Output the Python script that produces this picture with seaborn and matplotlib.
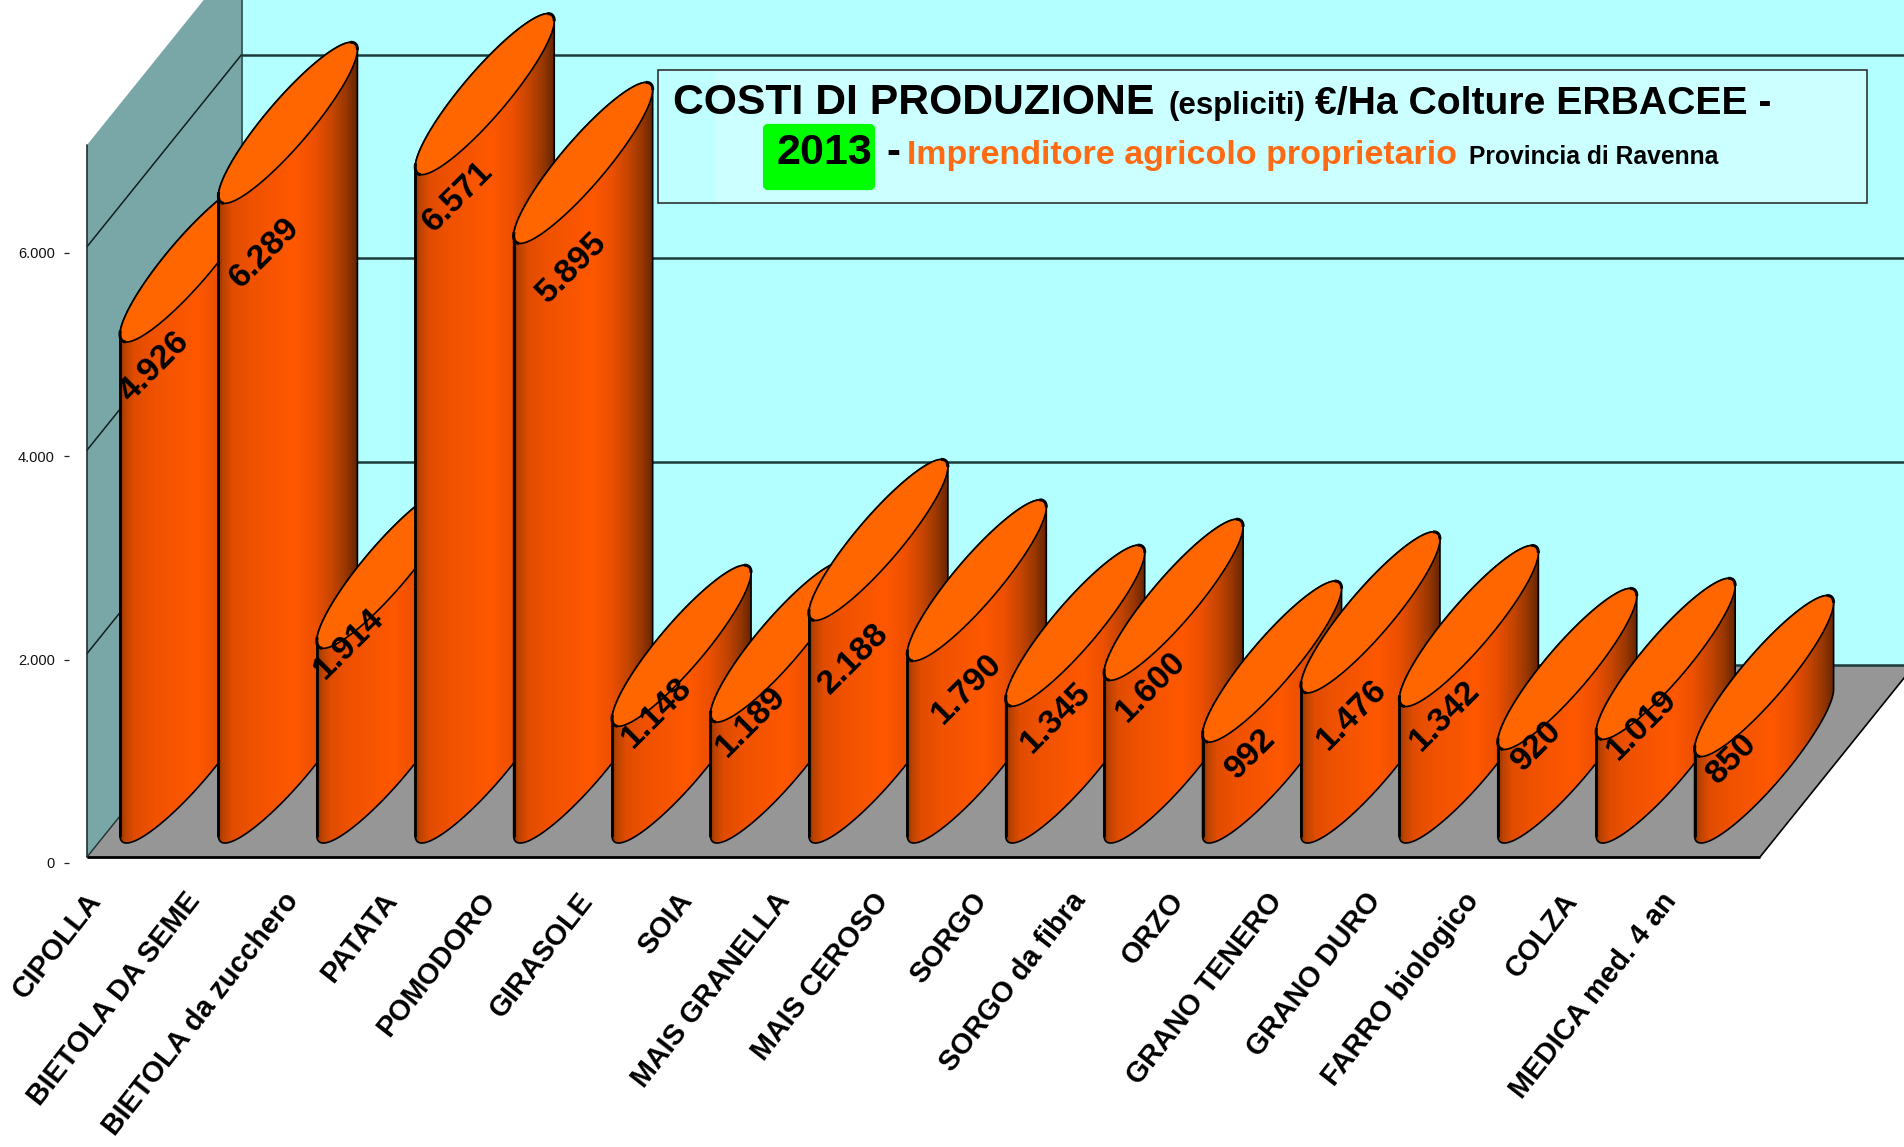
import numpy as np
import pandas as pd
import seaborn as sns
import matplotlib
matplotlib.use("Agg")
import matplotlib.pyplot as plt
from matplotlib.path import Path
from matplotlib.patches import PathPatch, Polygon, Rectangle, FancyBboxPatch
from matplotlib.colors import LinearSegmentedColormap
from matplotlib.transforms import ScaledTranslation

crops = ["CIPOLLA", "BIETOLA DA SEME", "BIETOLA da zucchero", "PATATA", "POMODORO",
         "GIRASOLE", "SOIA", "MAIS GRANELLA", "MAIS CEROSO", "SORGO", "SORGO da fibra",
         "ORZO", "GRANO TENERO", "GRANO DURO", "FARRO biologico", "COLZA", "MEDICA med. 4 an"]
costs = [4926, 6289, 1914, 6571, 5895, 1148, 1189, 2188, 1790, 1345, 1600, 992, 1476, 1342, 920, 1019, 850]
y_ticks = [0, 2000, 4000, 6000]
y_tick_labels = ["0", "2.000", "4.000", "6.000"]
value_labels = ["4.926", "6.289", "1.914", "6.571", "5.895", "1.148", "1.189", "2.188", "1.790",
                "1.345", "1.600", "992", "1.476", "1.342", "920", "1.019", "850"]
# label placement relative to each bar's top-left corner (pixels, right / down)
label_shift = [(34, 30), (46, 54), (32, 0), (43, 27), (58, 29), (45, -9), (40, 4), (45, 43), (60, 32),
               (50, 16), (47, 11), (48, 16), (51, 27), (46, 14), (39, 1), (46, -10), (37, 7)]

W, H = 1904, 1147
sns.set_theme(style="white")
plt.rcParams["font.family"] = ["Liberation Sans", "DejaVu Sans"]

fig = plt.figure(figsize=(W / 100, H / 100), dpi=100, facecolor="white")
ax = fig.add_axes([87 / W, (H - 857) / H, 1673 / W, 712 / H])
ax.patch.set_alpha(0)

df = pd.DataFrame({"coltura": crops, "costo": costs})
sns.barplot(data=df, x="coltura", y="costo", width=1.0, color="#ff5500", ax=ax, errorbar=None)
ax.set_xlim(-0.5, 16.5)
ax.set_ylim(0, 7000)
ax.set_xlabel("")
ax.set_ylabel("")
ax.set_yticks([])
for s in ax.spines.values():
    s.set_visible(False)

px_x = 1 / 98.41          # categories per pixel
px_y = 7000 / 712         # euro per pixel

# ---------- walls and floor
dx, dy = 154.5 * px_x, 192 * px_y
WALL, SIDE, FLOOR = "#b3ffff", "#79a6a6", "#969696"
x0, x1 = -0.5, 16.5
ax.add_patch(Polygon([(x0 + dx, dy), (x1 + dx, dy), (x1 + dx, 7000 + dy), (x0 + dx, 7000 + dy)],
                     fc=WALL, ec="none", clip_on=False, zorder=0.1))
ax.add_patch(Polygon([(x0, 0), (x1, 0), (x1 + dx, dy), (x0 + dx, dy)],
                     fc=FLOOR, ec="none", clip_on=False, zorder=0.2))
ax.add_patch(Polygon([(x0, 0), (x0 + dx, dy), (x0 + dx, 7000 + dy), (x0, 7000)],
                     fc=SIDE, ec="none", clip_on=False, zorder=0.2))
GRID = "#1c3a3a"
for v in [2000, 4000, 6000]:
    ax.plot([x0, x0 + dx], [v, v + dy], color="#102020", lw=1.1, clip_on=False, zorder=0.3)
for v in [0, 2000, 4000, 6000]:
    ax.plot([x0 + dx, x1 + dx], [v + dy, v + dy], color=GRID, lw=1.8, clip_on=False, zorder=0.3)
ax.plot([x0 + dx, x0 + dx], [dy, 7000 + dy], color=GRID, lw=1.1, clip_on=False, zorder=0.3)
ax.plot([x0, x0 + dx], [0, dy], color="#203030", lw=1.0, clip_on=False, zorder=0.3)
ax.plot([x0, x0], [0, 7000], color="#203030", lw=1.2, clip_on=False, zorder=0.4)
ax.plot([x1, x1 + dx], [0, dy], color="black", lw=1.2, clip_on=False, zorder=0.4)
ax.plot([x0, x1], [0, 0], color="black", lw=2.0, clip_on=False, zorder=0.4, solid_capstyle="butt")

# ---------- cylinders, built from seaborn's bars
cyl = LinearSegmentedColormap.from_list("cyl", [
    (0.00, "#8a3200"), (0.03, "#b84200"), (0.10, "#e04c00"), (0.25, "#f05200"),
    (0.55, "#ff5800"), (0.70, "#ec5000"), (0.82, "#c44400"), (0.92, "#963600"), (1.00, "#622400")])
grad = np.linspace(0, 1, 256)[None, :]

width = 139 * px_x
rise = 146 * px_y
bulge = 34 * px_y
base = 21.5 * px_y
shift = 33 * px_x

up = np.linspace(0, np.pi, 120)
low = np.linspace(np.pi, 2 * np.pi, 120)


def rim(left, corner, t):
    return np.column_stack([left + width / 2 * (1 + np.cos(t)),
                            corner + rise / 2 * (1 + np.cos(t)) + bulge * np.sin(t)])


bars = list(ax.patches)
bars = [b for b in bars if isinstance(b, Rectangle)][:len(costs)]
for i, b in enumerate(bars):
    b.set_visible(False)
    left = b.get_x() + shift
    val = b.get_height()
    z = 1 + i * 0.1
    top = base + val
    body = np.vstack([rim(left, base, low), rim(left, top, up)])
    bp = PathPatch(Path(np.vstack([body, body[0]]), closed=True), fc="none", ec="black", lw=1.2,
                   clip_on=False, zorder=z + 0.02, joinstyle="round")
    ax.add_patch(bp)
    im = ax.imshow(grad, cmap=cyl, aspect="auto", extent=(left, left + width, 0, top + rise + bulge * 2),
                   zorder=z + 0.01, interpolation="bilinear", vmin=0, vmax=1)
    im.set_clip_path(bp)
    im.set_clip_box(fig.bbox)
    ax.plot([left, left], [base, top], color="black", lw=2.0, clip_on=False, zorder=z + 0.03)
    ell = np.vstack([rim(left, top, up), rim(left, top, low)])
    ax.add_patch(PathPatch(Path(np.vstack([ell, ell[0]]), closed=True), fc="#ff6600", ec="black", lw=1.2,
                           clip_on=False, zorder=z + 0.04))
    # heavier rim at the two tips
    ax.plot(*rim(left, top, np.linspace(0, 0.45, 20)).T, color="black", lw=2.2, clip_on=False,
            zorder=z + 0.05, solid_capstyle="butt")
    ax.plot(*rim(left, top, np.linspace(np.pi - 0.1, np.pi + 0.4, 20)).T, color="black", lw=2.2,
            clip_on=False, zorder=z + 0.05, solid_capstyle="butt")
    sx, sy = label_shift[i]
    ax.annotate(value_labels[i], xy=(left, top), xytext=(sx, -sy - 3), textcoords="offset pixels",
                ha="center", va="center", rotation=45, rotation_mode="anchor",
                fontsize=24.5, fontweight="bold", color="black", zorder=5, annotation_clip=False)
ax.set_xlim(-0.5, 16.5)
ax.set_ylim(0, 7000)

# ---------- category labels
ax.tick_params(axis="x", length=0, pad=28)
offset = ScaledTranslation(-40 / 100, 0, fig.dpi_scale_trans)
for lab in ax.get_xticklabels():
    lab.set(rotation=52, ha="right", va="center", rotation_mode="anchor",
            fontsize=20.7, fontweight="bold", color="black")
    lab.set_transform(lab.get_transform() + offset)

# ---------- value axis
ay = fig.add_axes([69 / W, (H - 863) / H, 1 / W, 712 / H])
ay.patch.set_alpha(0)
ay.set_xticks([])
ay.set_ylim(0, 7000)
ay.set_yticks(y_ticks)
ay.set_yticklabels(y_tick_labels, fontsize=10.5, color="#111111")
ay.tick_params(axis="y", length=3.6, width=0.9, pad=6.5, color="#222222", left=True)
for s in ay.spines.values():
    s.set_visible(False)

# ---------- title box (figure pixel positions)
tb = fig.add_axes([0, 0, 1, 1], zorder=10)
tb.set_xlim(0, W)
tb.set_ylim(H, 0)
tb.axis("off")
tb.patch.set_alpha(0)
tb.add_patch(Rectangle((658, 70), 1209, 133, fc="#ccffff", ec="#222222", lw=1.1))
tb.add_patch(Rectangle((659, 71), 56, 131, fc="#bfffff", ec="none"))
tb.add_patch(FancyBboxPatch((765, 126), 108, 62, boxstyle="round,pad=0,rounding_size=3",
                            fc="#00ff00", ec="#00ff00", lw=3))
T = dict(fontweight="bold", va="baseline", ha="left")
tb.text(673, 114, "COSTI DI PRODUZIONE", fontsize=30.8, color="black", **T)
tb.text(1168, 114, "(espliciti)", fontsize=22.5, color="black", **T)
tb.text(1315, 114, "€/Ha Colture ERBACEE -", fontsize=28.2, color="black", **T)
tb.text(776, 164, "2013", fontsize=31, color="black", **T)
tb.text(886, 164, "-", fontsize=30, color="black", **T)
tb.text(907, 164, "Imprenditore agricolo proprietario", fontsize=24.5, color="#ff6a13", **T)
tb.text(1469, 164, "Provincia di Ravenna", fontsize=17.7, color="black", **T)

fig.savefig("out.png", dpi=100)
